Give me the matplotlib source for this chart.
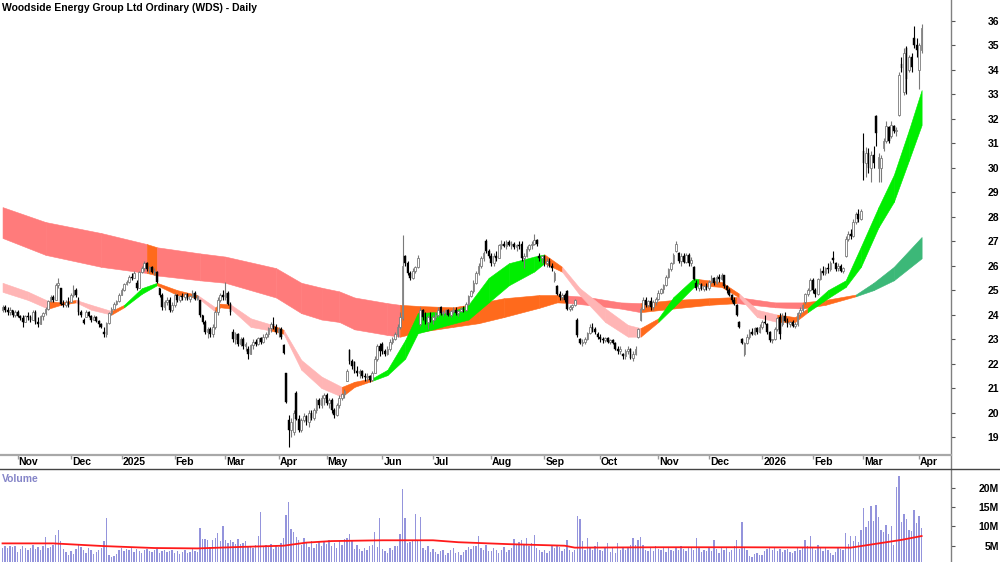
import numpy as np
import pandas as pd
import matplotlib

matplotlib.use("Agg")
import matplotlib.pyplot as plt
from matplotlib.lines import Line2D
from matplotlib.transforms import blended_transform_factory

plt.rcParams["font.family"] = ["Liberation Sans", "DejaVu Sans"]

# ASX trading calendar for the visible range
HOLIDAYS = ["2024-12-25", "2024-12-26", "2025-01-01", "2025-01-27", "2025-04-18",
            "2025-04-21", "2025-04-25", "2025-06-09", "2025-12-25", "2025-12-26",
            "2026-01-01", "2026-01-26"]
dates = pd.bdate_range("2024-10-24", "2026-04-02", freq="C", holidays=HOLIDAYS)

# daily bars (open, high, low, close), one list per month
oct24 = [(24.2, 24.4, 24.1, 24.3), (24.3, 24.4, 24.1, 24.2), (24.2, 24.3, 24.0, 24.1),
         (24.1, 24.3, 24.0, 24.2), (24.2, 24.2, 23.9, 24.0), (24.0, 24.2, 23.9, 24.1)]
nov24 = [(24.1, 24.2, 23.9, 23.95), (23.95, 24.0, 23.8, 23.85), (23.85, 24.0, 23.5, 23.7),
         (23.7, 24.0, 23.7, 23.95), (23.95, 24.1, 23.8, 23.9), (23.9, 24.0, 23.7, 23.8),
         (23.8, 24.2, 23.8, 24.1), (24.1, 24.2, 23.6, 23.7), (23.7, 23.9, 23.5, 23.6),
         (23.6, 24.0, 23.6, 23.95), (23.95, 24.1, 23.8, 24.05), (24.05, 24.3, 24.0, 24.25),
         (24.25, 24.6, 24.2, 24.55), (24.55, 24.8, 24.5, 24.7), (24.7, 24.8, 24.5, 24.6),
         (24.6, 25.3, 24.6, 25.2), (25.2, 25.5, 25.1, 25.3), (25.1, 25.1, 24.4, 24.45),
         (24.45, 24.6, 24.3, 24.4), (24.4, 24.6, 24.3, 24.5), (24.5, 24.7, 24.3, 24.4)]
dec24 = [(24.5, 24.9, 24.5, 24.8), (24.8, 25.2, 24.7, 25.0), (25.0, 25.1, 24.7, 24.8),
         (24.6, 24.7, 24.0, 24.1), (24.1, 24.2, 23.9, 24.0), (23.8, 23.85, 23.6, 23.65),
         (23.9, 24.2, 23.9, 24.1), (24.1, 24.15, 23.9, 23.95), (23.95, 24.0, 23.7, 23.8),
         (23.8, 24.0, 23.8, 23.9), (23.9, 23.95, 23.7, 23.75), (23.75, 23.8, 23.5, 23.6),
         (23.6, 23.65, 23.45, 23.5), (23.3, 23.5, 23.1, 23.2), (23.2, 23.7, 23.1, 23.65),
         (23.65, 24.1, 23.6, 24.05), (24.05, 24.3, 24.0, 24.25), (24.25, 24.5, 24.2, 24.45),
         (24.45, 24.6, 24.4, 24.55), (24.55, 24.9, 24.5, 24.8)]
jan25 = [(24.8, 25.1, 24.8, 25.0), (25.0, 25.3, 24.95, 25.25), (25.25, 25.4, 25.2, 25.35),
         (25.35, 25.6, 25.3, 25.55), (25.55, 25.7, 25.4, 25.5), (25.5, 25.8, 25.5, 25.7),
         (25.3, 25.4, 25.0, 25.1), (25.1, 25.8, 25.1, 25.75), (25.75, 26.0, 25.7, 25.9),
         (25.9, 26.2, 25.8, 26.1), (26.1, 26.15, 25.8, 25.85), (25.85, 26.0, 25.7, 25.95),
         (25.95, 26.0, 25.7, 25.75), (25.75, 25.9, 25.6, 25.8), (25.75, 25.8, 25.3, 25.35),
         (25.1, 25.1, 24.7, 24.8), (24.8, 24.9, 24.2, 24.3), (24.3, 24.6, 24.2, 24.5),
         (24.5, 24.7, 24.4, 24.6), (24.6, 24.7, 24.1, 24.2), (24.2, 24.5, 24.1, 24.4)]
feb25 = [(24.4, 24.9, 24.3, 24.8), (24.8, 24.85, 24.5, 24.6), (24.6, 24.8, 24.5, 24.75),
         (24.75, 24.9, 24.6, 24.7), (24.7, 24.9, 24.6, 24.85), (24.85, 24.9, 24.6, 24.65),
         (24.65, 24.8, 24.5, 24.75), (24.75, 25.0, 24.7, 24.9), (24.9, 24.95, 24.6, 24.65),
         (24.65, 24.8, 24.6, 24.75), (24.6, 24.6, 23.9, 24.0), (24.0, 24.0, 23.6, 23.7),
         (23.7, 23.8, 23.2, 23.3), (23.3, 23.5, 23.05, 23.4), (23.4, 23.5, 23.1, 23.2),
         (23.2, 23.6, 23.1, 23.5), (23.5, 24.2, 23.4, 24.1), (24.1, 24.7, 24.0, 24.6),
         (24.6, 24.9, 24.5, 24.8), (24.8, 25.0, 24.6, 24.7)]
mar25 = [(24.7, 25.35, 24.6, 24.9), (24.9, 24.95, 24.4, 24.45), (24.45, 24.5, 24.0, 24.1),
         (23.3, 23.4, 22.9, 23.0), (23.0, 23.3, 22.8, 23.2), (23.2, 23.25, 22.7, 22.8),
         (22.8, 23.1, 22.7, 23.0), (23.0, 23.1, 22.6, 22.7), (22.7, 22.9, 22.5, 22.8),
         (22.6, 22.7, 22.2, 22.4), (22.4, 22.8, 22.4, 22.75), (22.75, 23.0, 22.6, 22.9),
         (22.9, 23.0, 22.7, 22.8), (22.8, 23.1, 22.75, 23.05), (23.05, 23.1, 22.8, 22.9),
         (22.9, 23.2, 22.85, 23.1), (23.1, 23.3, 23.0, 23.2), (23.2, 23.5, 23.1, 23.45),
         (23.45, 23.7, 23.3, 23.6), (23.6, 23.9, 23.4, 23.5), (23.5, 23.6, 23.2, 23.3)]
apr25 = [(23.3, 23.5, 23.1, 23.4), (23.4, 23.5, 23.0, 23.1), (22.75, 22.8, 22.4, 22.45),
         (21.6, 21.6, 20.4, 20.45), (19.7, 19.9, 18.6, 19.3), (19.3, 19.8, 19.0, 19.6),
         (19.2, 20.1, 19.1, 20.0), (20.8, 20.9, 19.7, 19.75), (19.75, 19.9, 19.2, 19.3),
         (19.3, 19.8, 19.2, 19.7), (19.7, 20.0, 19.6, 19.85), (19.85, 19.9, 19.5, 19.6),
         (19.6, 20.1, 19.4, 20.0), (20.0, 20.1, 19.7, 19.8), (19.8, 20.2, 19.7, 20.1),
         (20.1, 20.6, 20.0, 20.5), (20.5, 20.6, 20.2, 20.3), (20.3, 20.7, 20.2, 20.6),
         (20.6, 20.8, 20.3, 20.7)]
may25 = [(20.7, 20.8, 20.3, 20.4), (20.4, 20.6, 20.2, 20.5), (20.5, 20.6, 20.0, 20.1),
         (20.1, 20.2, 19.8, 19.9), (19.9, 20.4, 19.85, 20.3), (20.3, 20.7, 20.2, 20.6),
         (20.6, 20.8, 20.5, 20.75), (20.75, 20.95, 20.6, 20.9), (21.3, 21.8, 21.3, 21.7),
         (22.55, 22.6, 22.0, 22.1), (22.1, 22.2, 21.8, 21.9), (22.05, 22.1, 21.6, 21.7),
         (21.7, 21.9, 21.5, 21.6), (21.6, 21.8, 21.4, 21.7), (21.7, 21.75, 21.4, 21.5),
         (21.5, 21.6, 21.3, 21.45), (21.45, 21.6, 21.3, 21.5), (21.5, 21.55, 21.25, 21.35),
         (21.35, 21.7, 21.3, 21.6), (21.6, 22.3, 21.6, 22.2), (22.2, 22.8, 22.1, 22.7),
         (22.7, 22.85, 22.3, 22.5)]
jun25 = [(22.8, 22.9, 22.4, 22.5), (22.5, 22.6, 22.3, 22.4), (22.4, 22.7, 22.35, 22.6),
         (22.6, 23.0, 22.5, 22.9), (22.9, 23.1, 22.8, 23.0), (23.0, 23.3, 22.95, 23.2),
         (23.2, 23.6, 23.1, 23.5), (23.5, 24.1, 23.4, 23.9), (23.85, 27.25, 23.8, 26.0),
         (26.4, 26.45, 26.0, 26.1), (26.1, 26.2, 25.6, 25.7), (25.7, 25.8, 25.4, 25.5),
         (25.5, 25.9, 25.45, 25.8), (25.8, 26.0, 25.7, 25.95), (25.95, 26.45, 25.9, 26.3),
         (23.6, 24.3, 23.55, 24.2), (24.2, 24.25, 23.8, 23.9), (23.9, 24.1, 23.6, 23.7),
         (23.7, 24.0, 23.4, 23.9), (23.9, 24.1, 23.7, 23.8)]
jul25 = [(23.8, 24.0, 23.6, 23.9), (23.9, 24.1, 23.8, 24.0), (24.0, 24.3, 23.9, 24.2),
         (24.3, 24.35, 24.0, 24.05), (24.05, 24.2, 23.95, 24.1), (24.1, 24.25, 24.0, 24.2),
         (24.2, 24.25, 23.95, 24.0), (24.0, 24.2, 23.9, 24.15), (24.15, 24.3, 24.05, 24.2),
         (24.2, 24.3, 24.0, 24.05), (24.05, 24.2, 23.95, 24.15), (24.15, 24.3, 24.1, 24.25),
         (24.25, 24.35, 24.1, 24.2), (24.2, 24.5, 24.15, 24.45), (24.45, 24.8, 24.4, 24.75),
         (24.75, 25.0, 24.7, 24.95), (24.95, 25.4, 24.9, 25.3), (25.3, 25.8, 25.25, 25.7),
         (25.7, 26.1, 25.6, 26.0), (26.0, 26.4, 25.9, 26.3), (26.3, 26.6, 26.2, 26.5),
         (27.0, 27.1, 26.5, 26.6), (26.6, 26.7, 26.3, 26.4)]
aug25 = [(26.4, 26.5, 26.0, 26.1), (26.1, 26.5, 26.0, 26.4), (26.4, 26.6, 26.2, 26.3),
         (26.3, 26.9, 26.3, 26.85), (26.85, 27.05, 26.7, 26.9), (26.9, 27.0, 26.75, 26.8),
         (26.8, 27.05, 26.7, 26.95), (26.95, 27.05, 26.8, 26.85), (26.85, 27.0, 26.7, 26.9),
         (26.9, 26.95, 26.7, 26.75), (26.75, 26.9, 26.6, 26.85), (26.85, 27.0, 26.7, 26.8),
         (26.9, 27.0, 26.2, 26.3), (26.3, 26.5, 25.9, 26.4), (26.4, 26.8, 26.35, 26.7),
         (26.7, 26.9, 26.6, 26.85), (26.85, 27.0, 26.7, 26.9), (26.9, 27.3, 26.85, 27.05),
         (27.05, 27.1, 26.8, 26.9), (26.4, 26.5, 26.2, 26.3), (26.3, 26.45, 26.1, 26.4)]
sep25 = [(26.4, 26.45, 26.0, 26.1), (26.1, 26.3, 25.95, 26.2), (26.2, 26.3, 25.95, 26.0),
         (26.0, 26.1, 25.8, 25.9), (25.4, 25.8, 25.35, 25.7), (25.15, 25.2, 24.8, 24.85),
         (24.85, 24.95, 24.6, 24.7), (24.7, 24.9, 24.6, 24.8), (24.8, 24.9, 24.5, 24.6),
         (24.95, 25.0, 24.2, 24.25), (24.25, 24.4, 24.15, 24.3), (24.3, 24.45, 24.2, 24.4),
         (24.4, 24.65, 24.35, 24.6), (23.8, 23.85, 23.1, 23.15), (23.0, 23.05, 22.8, 22.85),
         (22.85, 23.0, 22.7, 22.9), (22.9, 23.1, 22.8, 23.0), (23.0, 23.3, 22.95, 23.25),
         (23.25, 23.6, 23.2, 23.5), (23.5, 23.65, 23.3, 23.4), (23.4, 23.5, 23.2, 23.3),
         (23.2, 23.3, 23.0, 23.1)]
oct25 = [(23.1, 23.2, 22.9, 23.0), (23.0, 23.1, 22.85, 22.95), (22.95, 23.1, 22.9, 23.05),
         (23.05, 23.1, 22.85, 22.9), (22.9, 23.0, 22.8, 22.95), (22.95, 23.0, 22.8, 22.85),
         (22.85, 22.9, 22.55, 22.6), (22.6, 22.7, 22.4, 22.5), (22.5, 22.7, 22.4, 22.6),
         (22.4, 22.45, 22.2, 22.3), (22.3, 22.6, 22.2, 22.5), (22.5, 22.7, 22.4, 22.6),
         (22.6, 22.65, 22.2, 22.25), (22.25, 22.5, 22.1, 22.4), (22.4, 22.7, 22.35, 22.6),
         (23.1, 23.45, 23.05, 23.4), (23.8, 24.3, 23.75, 24.25), (24.25, 24.7, 24.2, 24.6),
         (24.6, 24.7, 24.3, 24.4), (24.4, 24.6, 24.3, 24.55), (24.55, 24.7, 24.2, 24.3),
         (24.3, 24.6, 24.2, 24.5), (24.5, 24.7, 24.4, 24.65)]
nov25 = [(24.65, 25.0, 24.6, 24.9), (24.9, 25.1, 24.85, 25.05), (25.05, 25.25, 24.9, 25.2),
         (25.2, 25.6, 25.15, 25.55), (25.55, 25.9, 25.5, 25.85), (25.85, 26.15, 25.8, 26.1),
         (26.1, 26.5, 26.05, 26.45), (26.6, 27.0, 26.55, 26.9), (26.5, 26.55, 26.1, 26.2),
         (26.2, 26.5, 26.0, 26.4), (26.4, 26.5, 26.1, 26.15), (26.15, 26.5, 26.1, 26.45),
         (26.45, 26.5, 26.0, 26.1), (26.1, 26.35, 26.0, 26.25), (25.95, 26.0, 25.4, 25.45),
         (25.3, 25.4, 25.0, 25.1), (25.1, 25.3, 24.95, 25.25), (25.25, 25.3, 25.0, 25.05),
         (25.05, 25.2, 24.95, 25.15), (25.15, 25.3, 25.0, 25.1)]
dec25 = [(25.1, 25.4, 25.0, 25.35), (25.35, 25.6, 25.3, 25.5), (25.5, 25.55, 25.2, 25.3),
         (25.3, 25.6, 25.25, 25.55), (25.55, 25.65, 25.35, 25.45), (25.45, 25.7, 25.4, 25.6),
         (25.6, 25.6, 25.1, 25.15), (25.15, 25.2, 24.9, 25.0), (25.0, 25.1, 24.75, 24.8),
         (24.8, 24.85, 24.5, 24.6), (24.6, 24.7, 24.4, 24.45), (24.4, 24.45, 23.95, 24.0),
         (23.7, 23.75, 23.45, 23.5), (23.0, 23.05, 22.8, 22.85), (22.4, 22.9, 22.3, 22.85),
         (22.85, 23.2, 22.8, 23.1), (23.1, 23.4, 23.0, 23.3), (23.3, 23.45, 23.15, 23.2),
         (23.2, 23.5, 23.15, 23.45), (23.45, 23.5, 23.2, 23.3), (23.3, 23.6, 23.25, 23.5)]
jan26 = [(23.5, 23.8, 23.4, 23.7), (23.7, 24.0, 23.6, 23.65), (23.6, 23.65, 23.2, 23.3),
         (23.3, 23.35, 22.9, 22.95), (22.95, 23.0, 22.85, 23.0), (23.0, 23.5, 22.95, 23.4),
         (23.4, 23.9, 23.35, 23.85), (23.9, 24.05, 23.0, 23.2), (23.6, 24.05, 23.55, 23.95),
         (23.95, 24.1, 23.7, 23.75), (23.75, 23.85, 23.5, 23.6), (23.6, 23.75, 23.5, 23.7),
         (23.7, 23.8, 23.5, 23.55), (23.55, 23.7, 23.45, 23.6), (23.6, 24.1, 23.55, 24.05),
         (24.05, 24.3, 23.95, 24.2), (24.2, 24.45, 24.1, 24.4), (24.5, 24.9, 24.45, 24.85),
         (24.85, 25.1, 24.75, 25.0), (25.0, 25.5, 24.95, 25.4)]
feb26 = [(25.4, 25.5, 24.9, 25.0), (25.0, 25.1, 24.7, 24.85), (24.85, 25.5, 24.8, 25.45),
         (25.45, 25.9, 25.4, 25.8), (25.8, 26.0, 25.6, 25.7), (25.7, 25.95, 25.6, 25.9),
         (25.9, 26.1, 25.7, 25.85), (25.85, 26.2, 25.8, 26.1), (26.3, 26.6, 26.1, 26.25),
         (26.1, 26.15, 25.8, 25.85), (25.9, 26.1, 25.8, 26.0), (26.0, 26.05, 25.75, 25.8),
         (25.8, 25.95, 25.7, 25.9), (26.4, 27.2, 26.35, 27.1), (27.1, 27.4, 27.0, 27.3),
         (27.3, 27.5, 27.1, 27.2), (27.2, 27.9, 27.15, 27.8), (27.8, 28.2, 27.7, 28.1),
         (28.1, 28.3, 27.8, 27.9), (27.9, 28.3, 27.85, 28.25)]
mar26 = [(30.7, 31.4, 29.5, 30.2), (30.2, 30.85, 29.6, 30.6), (30.6, 30.8, 29.8, 30.0),
         (30.0, 30.7, 29.4, 30.5), (30.5, 30.9, 30.0, 30.2), (32.1, 32.15, 30.9, 31.4),
         (30.0, 30.6, 29.4, 30.45), (30.0, 30.5, 29.4, 30.4), (30.8, 31.2, 30.7, 31.1),
         (31.1, 31.9, 31.0, 31.7), (31.65, 31.7, 31.0, 31.1), (31.3, 31.9, 31.2, 31.75),
         (31.7, 31.75, 31.4, 31.5), (31.5, 31.65, 31.3, 31.55), (32.15, 33.9, 32.1, 33.8),
         (34.25, 34.5, 33.9, 34.05), (33.1, 34.9, 32.95, 34.7), (34.9, 34.95, 33.0, 33.6),
         (34.0, 34.6, 33.9, 34.5), (34.5, 34.7, 33.9, 34.1), (35.3, 35.8, 34.9, 35.0),
         (35.0, 35.3, 34.5, 34.8)]
apr26 = [(34.0, 35.1, 33.2, 35.0), (34.8, 35.85, 34.7, 35.7)]

# daily volume in millions of shares, one list per month
vol_oct24 = [4.5, 5.0, 4.3, 4.8, 4.6, 4.9]
vol_nov24 = [3.5, 4.2, 4.9, 4.4, 3.8, 4.5, 5.2, 4.1, 4.7, 3.9, 5.0, 7.2, 4.4, 4.6, 5.3,
             7.8, 9.1, 6.3, 4.2, 3.3, 2.7]
vol_dec24 = [3.6, 2.8, 4.1, 5.5, 4.6, 3.9, 3.2, 4.4, 3.8, 2.9, 3.5, 4.0, 4.5, 6.3, 12.1,
             2.6, 2.2, 2.4, 2.8, 3.9]
vol_jan25 = [4.4, 3.7, 4.2, 3.9, 4.6, 3.5, 4.1, 3.6, 3.2, 4.0, 4.2, 3.7, 3.3, 3.9, 4.1,
             3.2, 3.6, 4.0, 3.3, 3.6, 3.9]
vol_feb25 = [3.1, 3.6, 2.9, 3.4, 3.8, 3.0, 3.3, 4.2, 3.7, 3.5, 9.7, 6.8, 6.7, 6.5, 4.6,
             6.6, 7.0, 8.2, 6.1, 10.1]
vol_mar25 = [6.5, 5.8, 6.6, 6.0, 5.5, 6.8, 5.4, 5.7, 6.2, 4.9, 5.0, 4.5, 5.3, 7.5, 13.7,
             4.8, 5.1, 4.6, 5.5, 4.2, 5.0]
vol_apr25 = [4.6, 5.8, 7.0, 13.0, 16.4, 9.4, 8.5, 7.2, 6.6, 5.2, 7.0, 5.9, 4.6, 6.3, 4.4,
             5.5, 6.1, 4.8, 6.3]
vol_may25 = [5.4, 6.6, 4.9, 5.8, 4.3, 6.2, 5.3, 6.8, 7.1, 7.9, 6.1, 4.2, 5.3, 4.1, 3.6,
             4.4, 3.9, 4.8, 5.1, 8.5, 4.6, 12.1]
vol_jun25 = [4.2, 3.6, 3.1, 4.5, 4.0, 4.8, 5.0, 8.1, 19.7, 12.1, 5.6, 6.0, 6.3, 13.1, 6.1,
             12.3, 4.5, 3.9, 4.8, 3.5]
vol_jul25 = [4.1, 3.3, 2.9, 3.6, 4.0, 2.7, 3.2, 3.8, 4.4, 3.0, 3.5, 2.6, 3.3, 3.9, 4.6,
             4.2, 5.0, 4.8, 7.5, 4.3, 4.0, 5.2, 3.7]
vol_aug25 = [3.6, 4.4, 3.9, 3.2, 4.0, 4.6, 3.3, 3.9, 4.4, 6.8, 5.4, 5.9, 6.4, 5.1, 6.9,
             4.8, 5.7, 7.7, 4.5, 4.0, 3.5]
vol_sep25 = [3.8, 3.1, 3.6, 5.2, 4.4, 5.0, 4.7, 3.6, 4.1, 6.4, 3.9, 3.4, 3.8, 12.8, 12.0,
             6.3, 4.0, 6.9, 4.3, 3.9, 4.8, 5.9]
vol_oct25 = [4.0, 3.6, 4.6, 5.8, 3.5, 4.3, 3.2, 5.8, 4.0, 4.5, 3.8, 4.6, 5.3, 7.0, 5.2,
             6.5, 7.2, 5.1, 4.0, 3.7, 4.3, 3.6, 4.8]
vol_nov25 = [4.2, 3.8, 4.4, 3.5, 4.7, 4.0, 3.6, 4.3, 3.8, 4.9, 4.1, 3.6, 4.6, 4.4, 3.9,
             6.9, 4.3, 3.5, 4.0, 3.7]
vol_dec25 = [4.3, 3.6, 6.4, 4.1, 3.2, 4.5, 3.8, 4.6, 3.3, 4.0, 4.9, 6.4, 4.1, 11.1, 4.3,
             4.0, 2.4, 2.2, 2.9, 3.1, 2.6]
vol_jan26 = [2.5, 3.6, 4.1, 4.5, 3.9, 4.4, 3.6, 4.2, 3.3, 3.8, 4.1, 3.4, 3.0, 3.7, 4.6,
             3.9, 4.3, 6.6, 5.0, 7.5]
vol_feb26 = [4.7, 4.0, 5.2, 4.4, 3.6, 4.5, 3.9, 3.2, 2.6, 3.4, 4.6, 4.2, 3.8, 8.2, 5.4,
             7.5, 6.1, 7.5, 6.0, 9.1]
vol_mar26 = [14.7, 9.8, 11.4, 15.2, 11.4, 15.6, 12.5, 9.0, 8.6, 10.3, 8.0, 10.2, 5.1,
             20.1, 22.9, 11.2, 13.2, 12.0, 9.0, 8.8, 14.2, 11.0]
vol_apr26 = [12.6, 9.7]

# volume moving average (millions), read at trading-day numbers
vma_day = [0, 20, 40, 60, 77, 95, 111, 120, 130, 150, 170, 180, 200, 222, 226, 260, 290,
           335, 342, 348, 355, 363]
vma_val = [5.6, 5.6, 4.9, 4.4, 4.3, 4.7, 5.0, 5.8, 6.2, 6.4, 6.4, 5.9, 5.4, 5.0, 4.5, 4.6,
           4.6, 4.5, 5.2, 5.8, 6.5, 7.5]

# short-term ribbon edges, trend of each following stretch: u=up, d=down, f=flat
short_day = [0, 10, 18, 23, 29, 35, 43, 48, 55, 61, 69, 77, 84, 86, 90, 98, 106, 111, 118,
             126, 134, 139, 146, 152, 159, 164, 170, 176, 184, 192, 200, 210, 214, 221,
             228, 238, 247, 252, 259, 265, 273, 275, 284, 291, 298, 306, 313, 318, 326,
             333, 339, 346, 352, 358, 363]
short_top = [25.30, 24.94, 24.56, 24.50, 24.60, 24.40, 24.15, 24.40, 25.08, 25.30, 25.00,
             24.80, 24.30, 24.45, 24.42, 23.85, 23.60, 23.38, 22.15, 21.47, 21.05, 21.26,
             21.40, 21.75, 22.96, 24.06, 24.10, 24.05, 24.40, 25.50, 26.10, 26.37, 26.46,
             25.95, 25.08, 24.26, 23.58, 23.45, 23.85, 24.72, 25.48, 25.45, 25.33, 24.85,
             24.20, 24.00, 23.90, 24.26, 25.00, 25.40, 26.77, 28.40, 29.70, 31.54, 33.17]
short_bot = [24.93, 24.60, 24.24, 24.40, 24.50, 24.20, 24.00, 24.30, 24.85, 25.20, 24.80,
             24.70, 24.12, 24.30, 24.25, 23.50, 23.35, 23.22, 21.75, 21.00, 20.65, 21.05,
             21.30, 21.53, 22.20, 23.24, 23.40, 23.58, 23.80, 24.50, 25.20, 25.76, 26.10,
             25.75, 24.80, 23.70, 23.10, 23.10, 23.70, 24.30, 25.13, 25.20, 25.13, 24.70,
             23.90, 23.70, 23.70, 24.10, 24.67, 25.13, 25.95, 27.57, 28.60, 30.30, 31.74]
short_trend = "ddffddfuuf" "fdffddfddd" "ffuuuuuuuu" "uufddddfuu" "uffddffuuu" "uuuuu"

# long-term ribbon edges
long_day = [0, 17, 39, 57, 61, 78, 88, 108, 118, 126, 133, 139, 152, 157, 165, 178, 188,
            198, 212, 219, 223, 231, 244, 252, 265, 279, 290, 305, 316, 325, 337, 344,
            352, 363]
long_top = [28.39, 27.78, 27.33, 26.88, 26.75, 26.50, 26.37, 25.90, 25.30, 25.10, 24.95,
            24.70, 24.47, 24.40, 24.35, 24.30, 24.47, 24.67, 24.80, 24.80, 24.78, 24.72,
            24.50, 24.47, 24.60, 24.67, 24.72, 24.50, 24.50, 24.60, 24.82, 25.30, 25.95,
            27.17]
long_bot = [27.13, 26.44, 25.95, 25.70, 25.60, 25.40, 25.30, 24.70, 24.06, 23.80, 23.70,
            23.40, 23.17, 23.10, 23.30, 23.50, 23.65, 23.90, 24.28, 24.50, 24.48, 24.40,
            24.25, 24.10, 24.25, 24.40, 24.47, 24.30, 24.25, 24.40, 24.75, 25.00, 25.40,
            26.30]
long_trend = "dddfdddddd" "dddfffffff" "dddfffddff" "uuuu"

SHORT_COLORS = {"u": "#00ee00", "d": "#ffb5b5", "f": "#ff6a1c"}
LONG_COLORS = {"u": "#3cb878", "d": "#ff7b7b", "f": "#ff6a1c"}
UP_EDGE = "#7a7a7a"
VOL_COLOR = "#9494dc"

months = [oct24, nov24, dec24, jan25, feb25, mar25, apr25, may25, jun25, jul25, aug25,
          sep25, oct25, nov25, dec25, jan26, feb26, mar26, apr26]
vol_months = [vol_oct24, vol_nov24, vol_dec24, vol_jan25, vol_feb25, vol_mar25, vol_apr25,
              vol_may25, vol_jun25, vol_jul25, vol_aug25, vol_sep25, vol_oct25, vol_nov25,
              vol_dec25, vol_jan26, vol_feb26, vol_mar26, vol_apr26]

ohlc = np.array([bar for m in months for bar in m])
o, h, l, c = ohlc.T
vol = np.array([v for m in vol_months for v in m])
n = len(ohlc)
x = np.arange(n)

fig = plt.figure(figsize=(10, 5.62), dpi=100)
ax = fig.add_axes([0, 1 - 455 / 562, 0.951, 455 / 562])
axv = fig.add_axes([0, 0, 0.951, 92 / 562])

for a in (ax, axv):
    for s in a.spines.values():
        s.set_visible(False)
    a.set_xlim(-1.0, 374.6)

# ribbons
def draw_ribbon(days, top, bot, trend, colors, z):
    for k in range(len(days) - 1):
        col = colors[trend[k]]
        ax.fill_between(days[k:k + 2], bot[k:k + 2], top[k:k + 2], color=col,
                        edgecolor=col, lw=0.4, zorder=z)

draw_ribbon(long_day, long_top, long_bot, long_trend, LONG_COLORS, 1)
draw_ribbon(short_day, short_top, short_bot, short_trend, SHORT_COLORS, 2)

# candles
up = c >= o
ax.vlines(x[up], l[up], h[up], color=UP_EDGE, lw=0.8, zorder=3)
ax.vlines(x[~up], l[~up], h[~up], color="black", lw=0.8, zorder=3)
body = np.maximum(np.abs(c - o), 0.03)
base = np.minimum(o, c)
ax.bar(x[up], body[up], bottom=base[up], width=0.66, color="white",
       edgecolor=UP_EDGE, lw=0.6, zorder=4)
ax.bar(x[~up], body[~up], bottom=base[~up], width=0.66, color="black",
       edgecolor="black", lw=0.3, zorder=4)

ax.set_ylim(18.27, 36.845)
ax.yaxis.tick_right()
ax.set_yticks(range(19, 37))
ax.tick_params(axis="y", right=True, left=False, length=3, width=0.8, color="#555555",
               labelright=True, labelleft=False, labelsize=7.5, pad=31.5)
for t in ax.get_yticklabels():
    t.set_ha("right")
    t.set_fontweight("bold")

# month ticks and labels
d = dates[:n]
starts = [i for i in range(1, n) if d[i].month != d[i - 1].month]
ax.set_xticks(starts)
ax.tick_params(axis="x", direction="out", length=3, width=1, color="#9a9a9a",
               labelbottom=False)
tr = blended_transform_factory(ax.transData, ax.transAxes)
for i in starts:
    lab = str(d[i].year) if d[i].month == 1 else d[i].strftime("%b")
    ax.text(i + 0.4, -0.0154, lab, transform=tr, ha="left", va="center",
            fontsize=7.5, fontweight="bold", clip_on=False)

ax.text(0.002, 0.9835, "Woodside Energy Group Ltd Ordinary (WDS) - Daily",
        transform=ax.transAxes, ha="left", va="center", fontsize=7.5, fontweight="bold")

# volume
axv.bar(x, vol, width=0.55, color=VOL_COLOR, lw=0, zorder=2)
axv.plot(vma_day, vma_val, color="#ff1a1a", lw=1.3, zorder=3)
axv.set_ylim(0.785, 24.58)
axv.set_xticks([])
axv.yaxis.tick_right()
axv.set_yticks([5, 10, 15, 20])
axv.set_yticklabels(["5M", "10M", "15M", "20M"])
axv.tick_params(axis="y", right=True, left=False, length=3, width=0.8, color="#555555",
                labelright=True, labelleft=False, labelsize=7.5, pad=31.5)
for t in axv.get_yticklabels():
    t.set_ha("right")
    t.set_fontweight("bold")
axv.text(2 / 951, 1 - 8.5 / 92, "Volume", transform=axv.transAxes, ha="left",
         va="center", fontsize=7.5, fontweight="bold", color="#8585c8")

# frame lines
fig.add_artist(Line2D([0.951, 0.951], [0, 1], color="#808080", lw=1.0))
fig.add_artist(Line2D([0, 0.951], [1 - 455 / 562] * 2, color="#a8a8a8", lw=1.6))
fig.add_artist(Line2D([0, 1], [1 - 469 / 562] * 2, color="#444444", lw=1.0))

fig.savefig("out.png", dpi=100)
